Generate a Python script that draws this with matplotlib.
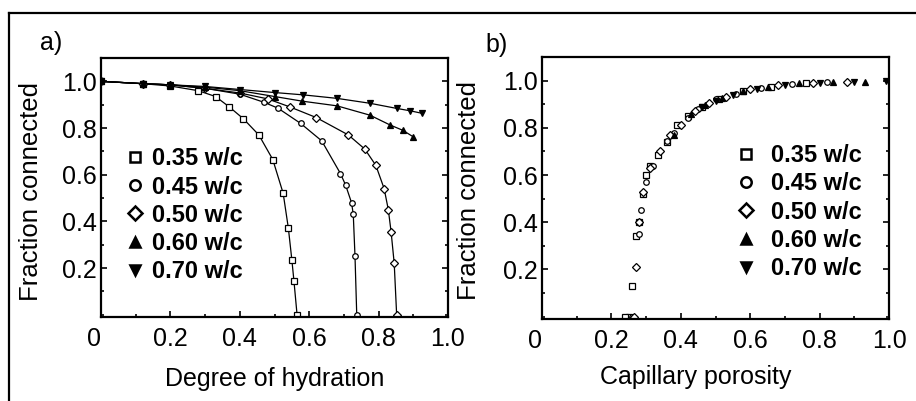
import matplotlib
matplotlib.use("Agg")
import matplotlib.pyplot as plt
from matplotlib.lines import Line2D
from matplotlib.ticker import MultipleLocator

plt.rcParams['font.family'] = ['Liberation Sans', 'DejaVu Sans']

# w/c series labels and markers
labels = ['0.35 w/c', '0.45 w/c', '0.50 w/c', '0.60 w/c', '0.70 w/c']
markers = ['s', 'o', 'D', '^', 'v']
filled = [False, False, False, True, True]

# a) fraction connected vs degree of hydration
hyd_35 = [0.0, 0.12, 0.20, 0.28, 0.33, 0.37, 0.41, 0.455, 0.495, 0.525, 0.54, 0.55, 0.556, 0.565]
frac_35 = [1.0, 0.99, 0.98, 0.96, 0.935, 0.89, 0.84, 0.77, 0.665, 0.52, 0.37, 0.235, 0.145, 0.0]
hyd_45 = [0.0, 0.12, 0.20, 0.30, 0.40, 0.47, 0.51, 0.575, 0.636, 0.69, 0.705, 0.722, 0.727, 0.732, 0.737]
frac_45 = [1.0, 0.99, 0.985, 0.97, 0.945, 0.91, 0.885, 0.82, 0.745, 0.605, 0.555, 0.48, 0.43, 0.25, 0.0]
hyd_50 = [0.0, 0.12, 0.20, 0.30, 0.40, 0.48, 0.545, 0.62, 0.713, 0.76, 0.792, 0.816, 0.828, 0.836, 0.845, 0.852]
frac_50 = [1.0, 0.99, 0.985, 0.97, 0.95, 0.925, 0.89, 0.845, 0.77, 0.71, 0.64, 0.54, 0.45, 0.355, 0.22, 0.0]
hyd_60 = [0.0, 0.12, 0.20, 0.30, 0.40, 0.50, 0.58, 0.68, 0.775, 0.833, 0.87, 0.90]
frac_60 = [1.0, 0.99, 0.985, 0.975, 0.96, 0.935, 0.915, 0.895, 0.855, 0.813, 0.79, 0.762]
hyd_70 = [0.0, 0.12, 0.20, 0.30, 0.40, 0.50, 0.583, 0.68, 0.775, 0.852, 0.89, 0.925]
frac_70 = [1.0, 0.99, 0.985, 0.978, 0.965, 0.952, 0.942, 0.927, 0.906, 0.884, 0.874, 0.863]

# b) fraction connected vs capillary porosity
por_35 = [0.76, 0.66, 0.58, 0.51, 0.46, 0.42, 0.39, 0.36, 0.335, 0.31, 0.30, 0.29, 0.28, 0.27, 0.258, 0.25, 0.24]
pfr_35 = [0.988, 0.975, 0.955, 0.92, 0.89, 0.85, 0.81, 0.74, 0.685, 0.64, 0.60, 0.52, 0.40, 0.34, 0.13, 0.0, 0.0]
por_45 = [0.82, 0.72, 0.63, 0.56, 0.50, 0.45, 0.42, 0.38, 0.36, 0.32, 0.30, 0.285, 0.28, 0.26]
pfr_45 = [0.992, 0.985, 0.97, 0.945, 0.92, 0.88, 0.84, 0.78, 0.745, 0.64, 0.57, 0.45, 0.35, 0.0]
por_50 = [0.88, 0.78, 0.68, 0.60, 0.53, 0.48, 0.44, 0.40, 0.37, 0.34, 0.31, 0.29, 0.28, 0.27, 0.265]
pfr_50 = [0.995, 0.99, 0.98, 0.965, 0.93, 0.905, 0.87, 0.81, 0.77, 0.70, 0.63, 0.53, 0.40, 0.21, 0.0]
por_60 = [0.93, 0.84, 0.74, 0.65, 0.58, 0.52, 0.47, 0.43, 0.38]
pfr_60 = [0.995, 0.994, 0.988, 0.975, 0.955, 0.925, 0.895, 0.86, 0.77]
por_70 = [0.99, 0.90, 0.80, 0.70, 0.62, 0.55, 0.50, 0.46]
pfr_70 = [1.0, 0.995, 0.99, 0.98, 0.965, 0.94, 0.915, 0.89]

series_a = [(hyd_35, frac_35), (hyd_45, frac_45), (hyd_50, frac_50), (hyd_60, frac_60), (hyd_70, frac_70)]
series_b = [(por_35, pfr_35), (por_45, pfr_45), (por_50, pfr_50), (por_60, pfr_60), (por_70, pfr_70)]

xticks = [0, 0.2, 0.4, 0.6, 0.8, 1.0]
xticklabels = ['0', '0.2', '0.4', '0.6', '0.8', '1.0']
yticks = [0.2, 0.4, 0.6, 0.8, 1.0]
yticklabels = ['0.2', '0.4', '0.6', '0.8', '1.0']

fig = plt.figure(figsize=(9.16, 4.01), dpi=100)
ax1 = fig.add_axes([101 / 916, 84 / 401, 347 / 916, 259 / 401])
ax2 = fig.add_axes([542 / 916, 82 / 401, 347 / 916, 262 / 401])

# outer frame of the scanned figure
fig.add_artist(Line2D([9 / 916, 1.0], [1 - 12.5 / 401, 1 - 12.5 / 401], color='black', lw=1.6))
fig.add_artist(Line2D([9 / 916, 9 / 916], [0, 1 - 12.5 / 401], color='black', lw=1.6))

for i, (x, y) in enumerate(series_a):
    ax1.plot(x, y, color='black', lw=0.9, marker=markers[i], ms=4,
             mfc='black' if filled[i] else 'white', mec='black', mew=0.9)

for i, (x, y) in enumerate(series_b):
    ax2.plot(x, y, ls='none', marker=markers[i], ms=4,
             mfc='black' if filled[i] else 'white', mec='black', mew=0.9)

# legend handles: markers only
handles = [Line2D([], [], ls='none', marker=markers[i], ms=7.5,
                  mfc='black' if filled[i] else 'white', mec='black', mew=1.8)
           for i in range(len(labels))]

for ax in (ax1, ax2):
    ax.set_xlim(0, 1.0)
    ax.set_ylim(-0.01, 1.1)
    ax.set_xticks(xticks)
    ax.set_xticklabels(xticklabels)
    ax.get_xticklabels()[0].set_ha('right')
    ax.set_yticks(yticks)
    ax.set_yticklabels(yticklabels)
    ax.xaxis.set_minor_locator(MultipleLocator(0.1))
    ax.yaxis.set_minor_locator(MultipleLocator(0.1))
    ax.tick_params(which='both', direction='in', top=False, right=True, labelsize=18, width=1.2)
    ax.tick_params(which='major', length=4)
    ax.tick_params(which='minor', length=2.5)
    ax.tick_params(axis='x', pad=7)
    ax.tick_params(axis='y', pad=3)
    for sp in ax.spines.values():
        sp.set_linewidth(1.6)
    ax.set_ylabel('Fraction connected', fontsize=18.5)

ax1.set_xlabel('Degree of hydration', fontsize=18)
ax2.set_xlabel('Capillary porosity', fontsize=18)
ax1.xaxis.set_label_coords(0.5, -0.193)
ax2.xaxis.set_label_coords(0.444, -0.176)
ax1.yaxis.set_label_coords(-0.167, 0.486)
ax2.yaxis.set_label_coords(-0.176, 0.49)

leg_font = {'weight': 'bold', 'size': 17}
ax1.legend(handles, labels, loc='upper left', bbox_to_anchor=(0.063, 0.655), frameon=False,
           prop=leg_font, handlelength=1.0, handletextpad=0.25, labelspacing=0.22,
           borderpad=0, borderaxespad=0)
ax2.legend(handles, labels, loc='upper left', bbox_to_anchor=(0.555, 0.667), frameon=False,
           prop=leg_font, handlelength=1.0, handletextpad=0.55, labelspacing=0.22,
           borderpad=0, borderaxespad=0)

fig.text(51 / 916, 1 - 43 / 401, 'a)', fontsize=18, ha='center', va='center')
fig.text(497 / 916, 1 - 45 / 401, 'b)', fontsize=18, ha='center', va='center')

fig.savefig('out.png', dpi=100)
